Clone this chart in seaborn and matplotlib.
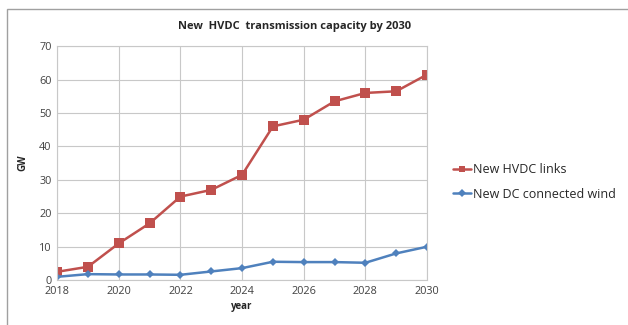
import seaborn as sns
import matplotlib.pyplot as plt
import pandas as pd
from matplotlib.patches import Rectangle

years = list(range(2018, 2031))
hvdc_links = [2.5, 4, 11, 17, 25, 27, 31.5, 46, 48, 53.5, 56, 56.5, 61.5]
dc_wind = [1, 1.8, 1.7, 1.7, 1.6, 2.6, 3.6, 5.5, 5.4, 5.4, 5.2, 8, 10]
series_names = ['New HVDC links', 'New DC connected wind']

df = pd.DataFrame({'year': years * 2,
                   'GW': hvdc_links + dc_wind,
                   'series': [series_names[0]] * len(years) + [series_names[1]] * len(years)})

sns.set_style('white')
plt.rcParams['font.family'] = ['Open Sans', 'DejaVu Sans']

fig = plt.figure(figsize=(6.28, 3.25), dpi=100)
ax = fig.add_axes([0.091, 0.138, 0.589, 0.72])

sns.lineplot(data=df, x='year', y='GW', hue='series', style='series',
             palette=['#c0504d', '#4f81bd'], markers=['s', 'D'], dashes=False,
             markersize=6.5, markeredgewidth=0, linewidth=1.8, ax=ax)
# smaller diamond for the wind series
ax.lines[1].set_markersize(4.5)

ax.set_xlim(2018, 2030)
ax.set_ylim(0, 70)
ax.set_xticks(range(2018, 2031, 2))
ax.set_yticks(range(0, 71, 10))
ax.grid(True, color='#c8c8c8', linewidth=0.8)
for s in ax.spines.values():
    s.set_color('#c8c8c8')
    s.set_linewidth(0.8)
ax.tick_params(labelsize=7.8, colors='#404040', length=0, pad=4)
ax.set_xlabel('year', fontsize=7, fontweight='bold', labelpad=3)
ax.set_ylabel('GW', fontsize=7, fontweight='bold', labelpad=8)
fig.text(295 / 628, 1 - 27 / 325, 'New  HVDC  transmission capacity by 2030',
         fontsize=8, fontweight='bold', ha='center', va='center')

handles, labels = ax.get_legend_handles_labels()
ax.legend(handles, labels, loc='center left', bbox_to_anchor=(1.04, 0.42),
          frameon=False, fontsize=9, handlelength=1.4, handletextpad=0.2,
          labelspacing=0.95, markerscale=0.7)

fig.patches.append(Rectangle((7 / 628, -0.05), 1.0, 1.05 - 9 / 325, transform=fig.transFigure,
                             fill=False, edgecolor='#a0a0a0', linewidth=1))

fig.savefig('out.png', dpi=100)
